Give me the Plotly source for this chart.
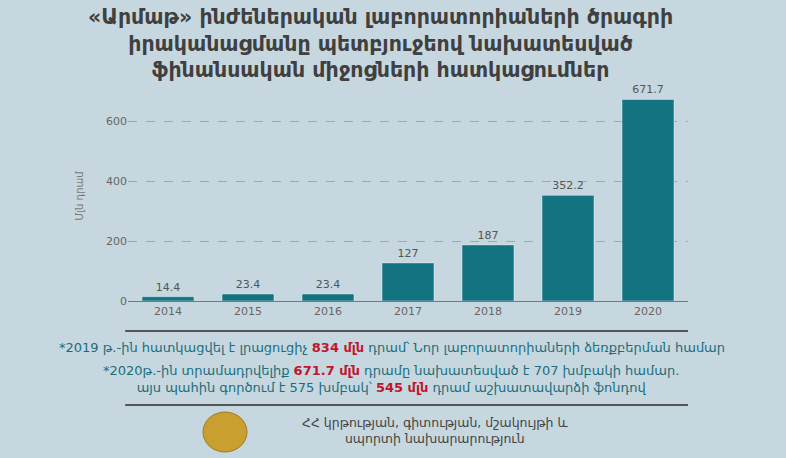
import plotly.graph_objects as go

years = ["2014", "2015", "2016", "2017", "2018", "2019", "2020"]
values = [14.4, 23.4, 23.4, 127, 187, 352.2, 671.7]
labels = ["14.4", "23.4", "23.4", "127", "187", "352.2", "671.7"]

title = "<b>«Արմաթ» ինժեներական լաբորատորիաների ծրագրի<br>իրականացմանը պետբյուջեով նախատեսված<br>ֆինանսական միջոցների հատկացումներ</b>"
teal = "#137381"
red = "#c0152f"
txt = "#1a6e7c"
font = "DejaVu Sans"

fig = go.Figure(go.Bar(
    x=years, y=values, text=labels, textposition="outside",
    textfont=dict(color="#555", size=11, family=font),
    marker_color=teal, width=0.65, cliponaxis=False))

fig.update_layout(
    width=786, height=458,
    margin=dict(l=128, r=98, t=91, b=157),
    paper_bgcolor="#c6d7df", plot_bgcolor="rgba(0,0,0,0)",
    showlegend=False, font=dict(family=font),
    xaxis=dict(showline=True, linecolor="#777", tickfont=dict(color="#666", size=11), ticks=""),
    yaxis=dict(range=[0, 700], tickvals=[0, 200, 400, 600], gridcolor="#9aa", griddash="dash",
               tickfont=dict(color="#666", size=11), zeroline=False,
               title=dict(text="Մլն դրամ", font=dict(size=10, color="#777"), standoff=20)),
)
def py(px):
    return (301 - px) / 210.0

fig.add_annotation(text=title, xref="paper", yref="paper", x=0.5, y=py(3), xshift=-28, yanchor="top",
                   showarrow=False, font=dict(size=20.5, color="#404040", family=font), align="center")
for yy in (331, 405):
    fig.add_shape(type="line", xref="paper", yref="paper", x0=-0.005, x1=1.0, y0=py(yy), y1=py(yy),
                  line=dict(color="#555", width=2))
fig.add_annotation(text=f"*2019 թ.-ին հատկացվել է լրացուցիչ <b><span style='color:{red}'>834 մլն</span></b> դրամ՝ Նոր լաբորատորիաների ձեռքբերման համար",
                   xref="paper", yref="paper", x=0.5, y=py(347), yshift=-10, xshift=-16, showarrow=False,
                   font=dict(size=13, color=txt, family=font))
fig.add_annotation(text=f"*2020թ.-ին տրամադրվելիք <b><span style='color:{red}'>671.7 մլն</span></b> դրամը նախատեսված է 707 խմբակի համար.<br>այս պահին գործում է 575 խմբակ՝ <b><span style='color:{red}'>545 մլն</span></b> դրամ աշխատավարձի ֆոնդով",
                   xref="paper", yref="paper", x=0.5, y=py(380), yshift=-17, xshift=-17, showarrow=False,
                   font=dict(size=13, color=txt, family=font))
fig.add_annotation(text="ՀՀ կրթության, գիտության, մշակույթի և<br>սպորտի նախարարություն",
                   xref="paper", yref="paper", x=0.5, y=py(432), yshift=-16, xshift=27, showarrow=False,
                   font=dict(size=12.5, color="#444", family=font))
fig.add_shape(type="circle", xref="paper", yref="paper", x0=(203-128)/560, x1=(247-128)/560, y0=py(452), y1=py(412),
              fillcolor="#c9a030", line=dict(color="#a07a20", width=1))
fig.write_html("out.html", config={"displayModeBar": False},
               post_script="document.body.style.margin='0';document.body.style.overflow='hidden';")
